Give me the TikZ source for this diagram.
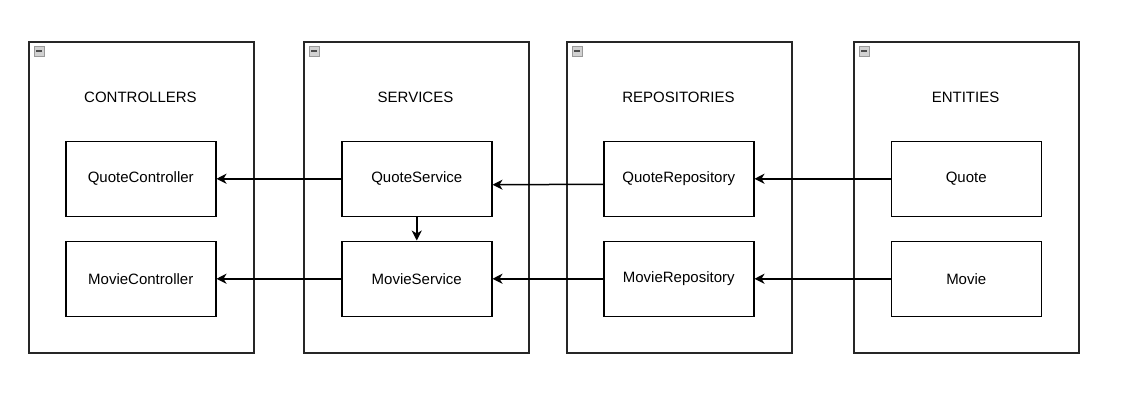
\documentclass[tikz,border=0pt]{standalone}
\usepackage{fontspec}
\setmainfont{Liberation Sans}
\usetikzlibrary{arrows.meta,calc}
\begin{document}
\begin{tikzpicture}[x=1pt,y=-1pt,
  container/.style={draw=black!85,line width=1.5pt,minimum width=225pt,minimum height=311pt,inner sep=0pt,anchor=north west},
  compbox/.style={draw=black,line width=1.5pt,fill=white,minimum width=150pt,minimum height=75pt,inner sep=0pt,anchor=north west,font=\fontsize{15}{18}\selectfont},
  title/.style={font=\fontsize{15}{18}\selectfont,inner sep=0pt},
  collapse/.style={draw=black!40,fill=black!18,line width=0.8pt,minimum width=10pt,minimum height=10pt,inner sep=0pt,anchor=north west},
  conn/.style={draw=black,line width=1.5pt,-{Stealth[length=10pt,width=10pt,inset=3pt]}}
]
\useasboundingbox (0,0) rectangle (1128,400);
\fill[white] (0,0) rectangle (1128,400);

% containers
\node[container] (cC) at (28,41) {};
\node[container] (cS) at (303,41) {};
\node[container] (cR) at (566,41) {};
\node[container] (cE) at (853,41) {};

% collapse icons
\foreach \n/\x in {iC/34,iS/309,iR/572,iE/859}{
  \node[collapse] (\n) at (\x,46) {};
  \draw[black!70,line width=2pt] ($(\n.center)+(-3,0)$) -- ($(\n.center)+(3,0)$);
}

% titles
\node[title] (tC) at (140.5,97) {CONTROLLERS};
\node[title] (tS) at (415.5,97) {SERVICES};
\node[title] (tR) at (678.5,97) {REPOSITORIES};
\node[title] (tE) at (965.5,97) {ENTITIES};

% boxes
\node[compbox] (QC) at (65,140.5) {QuoteController};
\node[compbox] (MC) at (65,240.5) {MovieController};
\node[compbox] (QS) at (341,140.5) {QuoteService};
\node[compbox] (MS) at (341,240.5) {MovieService};
\node[compbox] (QR) at (603,140.5) {QuoteRepository};
\node[compbox] (MR) at (603,240.5) {MovieRepository};
\node[compbox] (Q) at (890.5,140.5) {Quote};
\node[compbox] (M) at (890.5,240.5) {Movie};

% connectors
\draw[conn] (QS.west) -- (QC.east);
\draw[conn] (MS.west) -- (MC.east);
\draw[conn] (QS.south) -- (MS.north);
\draw[conn] ($(QR.west)+(0,5.5)$) -- ($(QS.east)+(0,6)$);
\draw[conn] (MR.west) -- (MS.east);
\draw[conn] (Q.west) -- (QR.east);
\draw[conn] (M.west) -- (MR.east);
\end{tikzpicture}
\end{document}
